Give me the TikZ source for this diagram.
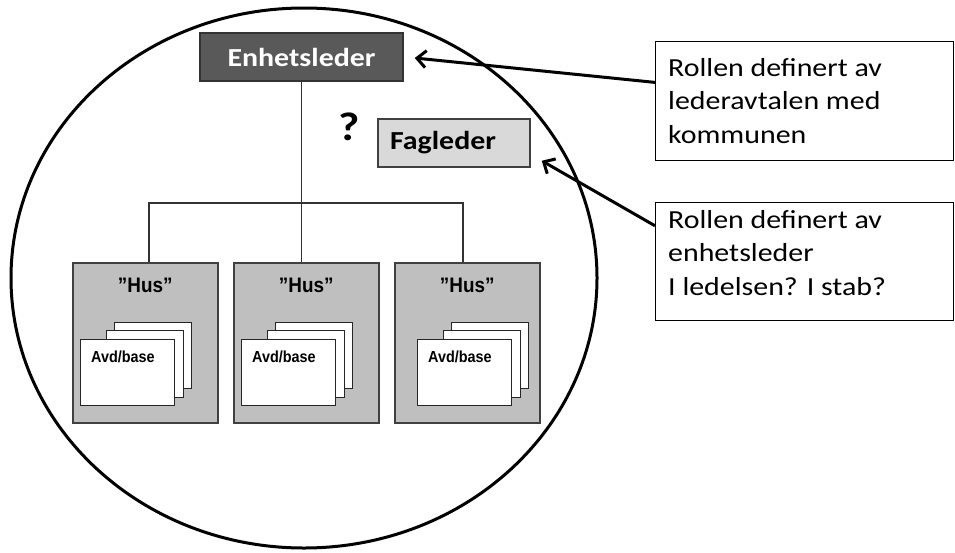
\documentclass[tikz,border=0pt]{standalone}
\usepackage{fontspec}
\newfontfamily\calfont[FakeStretch=1.15]{Carlito}
\newfontfamily\narfont[FakeStretch=0.9]{Liberation Sans}
\usetikzlibrary{arrows.meta,calc}
\tikzset{
  husbox/.style={draw=black!75, fill=black!25, line width=1.5pt, minimum width=145pt, minimum height=160pt, inner sep=0pt, anchor=north west},
  pagebox/.style={draw=black!85, fill=white, line width=1.2pt, inner sep=0pt, anchor=north west},
  tree/.style={draw=black!80, line width=1.1pt},
  rolebox/.style={draw=black, line width=1pt, fill=white, minimum width=298pt, inner sep=0pt, anchor=north west},
  roletext/.style={anchor=base west, align=left, inner sep=0pt, font=\calfont\fontsize{26}{33.5}\selectfont},
  pointer/.style={line width=3pt, -{Straight Barb[length=9pt,width=17pt]}},
  hustext/.style={anchor=base, inner sep=0pt, font=\narfont\bfseries\fontsize{21}{21}\selectfont},
  avdtext/.style={anchor=base west, inner sep=0pt, font=\narfont\bfseries\fontsize{16}{16}\selectfont},
}
\begin{document}
\begin{tikzpicture}[x=1pt,y=-1pt]
\useasboundingbox (0,0) rectangle (955,552);
\fill[white] (0,0) rectangle (955,552);

% big ellipse
\draw[line width=3pt] (304,278) ellipse [x radius=293, y radius=270];

% top boxes
\node[draw=black!80, fill=black!65, line width=1.5pt, minimum width=203pt, minimum height=48pt, inner sep=0pt,
      text=white, font=\calfont\bfseries\fontsize{26}{30}\selectfont] (el) at (301.5,57) {Enhetsleder};
\node[draw=black!75, fill=black!15, line width=1.5pt, minimum height=48pt, text width=128pt, align=left,
      inner xsep=12pt, inner ysep=0pt, font=\calfont\bfseries\fontsize{26}{30}\selectfont] (fl) at (454,143) {Fagleder};
\node[anchor=base, inner sep=0pt, font=\calfont\bfseries\fontsize{40}{40}\selectfont] (q) at (349,140) {?};

% hus boxes
\node[husbox] (hus1) at (72,262) {};
\node[husbox] (hus2) at (233,262) {};
\node[husbox] (hus3) at (394,262) {};

\foreach \h/\o in {1/8, 2/8, 3/23} {
  \node[pagebox, minimum width=77pt, minimum height=66pt] (p\h a) at ($(hus\h.north west)+(\o+34,60)$) {};
  \node[pagebox, minimum width=77pt, minimum height=67pt] (p\h b) at ($(hus\h.north west)+(\o+26,68)$) {};
  \node[pagebox, minimum width=94pt, minimum height=66pt] (p\h c) at ($(hus\h.north west)+(\o,77)$) {};
  \node[avdtext] (avd\h) at ($(p\h c.north west)+(11,23)$) {Avd/base};
  \node[hustext] (ht\h) at ($(hus\h.north)+(0,30)$) {”Hus”};
}

% tree connectors
\coordinate (b1) at (149,203);
\coordinate (b3) at (463,203);
\draw[tree] (el.south) -- (el.south |- hus2.north);
\draw[tree] (hus1.north -| b1) -- (b1) -- (b3) -- (hus3.north -| b3);

% role boxes
\node[rolebox, minimum height=119pt] (r1) at (655,41) {};
\node[rolebox, minimum height=118pt] (r2) at (655,202) {};
\node[roletext] (r1t) at (668,143) {Rollen definert av\\lederavtalen med\\kommunen};
\node[roletext] (r2t) at (668,295) {Rollen definert av\\enhetsleder\\I ledelsen? I stab?};

% arrows
\draw[pointer] ($(r1.north west)!0.345!(r1.south west)$) -- ([shift={(11,1)}]el.east);
\draw[pointer] ($(r2.north west)!0.2!(r2.south west)$) -- ([shift={(11,-7)}]fl.south east);
\end{tikzpicture}
\end{document}
